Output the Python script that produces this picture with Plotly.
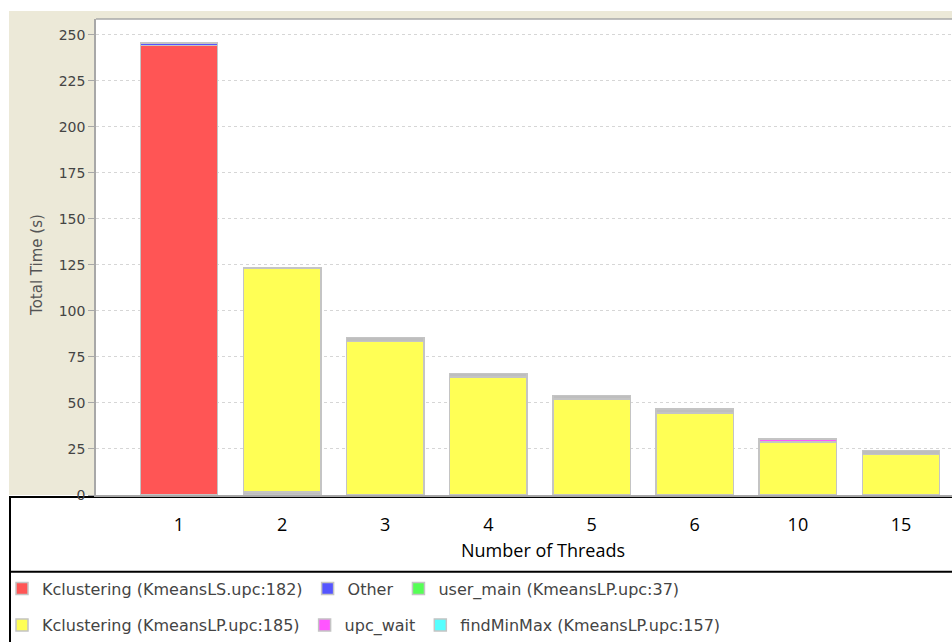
import plotly.graph_objects as go

threads = ["1", "2", "3", "4", "5", "6", "10", "15"]

# seconds per thread count, per function
unlisted_low = [0, 1.5, 0, 0, 0, 0, 0, 0]
kclust_ls = [244.3, 0, 0, 0, 0, 0, 0, 0]
kclust_lp = [0, 121.8, 83.3, 64.0, 52.2, 44.6, 28.8, 21.9]
other = [1.4, 0, 0, 0, 0, 0, 0, 0]
user_main = [0, 0, 0, 0, 0, 0, 0, 0]
upc_wait = [0, 0, 0, 0, 0, 0, 1.6, 0]
find_minmax = [0, 0, 0, 0, 0, 0, 0, 0]
unlisted_top = [0, 0, 2.4, 2.0, 2.0, 2.0, 0, 2.3]

y_ticks = [0, 25, 50, 75, 100, 125, 150, 175, 200, 225, 250]

x_title = "Number of Threads"
y_title = "Total Time (s)"

OUT = "#C4C4C4"

def bar(name, vals, color, legend, show=True):
    return go.Bar(
        x=threads, y=[v if v else None for v in vals], name=name,
        marker=dict(color=color, line=dict(color=OUT, width=1.5)),
        width=0.75, legend=legend, showlegend=show,
    )

fig = go.Figure()
fig.add_trace(bar("other threads", unlisted_low, "#BEBEBE", "legend", False))
fig.add_trace(bar("Kclustering (KmeansLS.upc:182)", kclust_ls, "#FF5555", "legend"))
fig.add_trace(bar("Kclustering (KmeansLP.upc:185)", kclust_lp, "#FFFF55", "legend2"))
fig.add_trace(bar("Other", other, "#5555FF", "legend"))
fig.add_trace(bar("user_main (KmeansLP.upc:37)", user_main, "#55FF55", "legend"))
fig.add_trace(bar("upc_wait", upc_wait, "#FF55FF", "legend2"))
fig.add_trace(bar("findMinMax (KmeansLP.upc:157)", find_minmax, "#55FFFF", "legend2"))
fig.add_trace(bar("other threads ", unlisted_top, "#BEBEBE", "legend", False))

L, T, B = 96, 19, 145
W, H = 952, 642
pw = W - L
ph = H - T - B

def px(x):
    return (x - L) / pw

def py(y):
    return (H - B - y) / ph

BEIGE = "#ECE9D8"
shapes = [
    # beige panel: left strip and top strip around the plot area
    dict(type="rect", xref="paper", yref="paper", x0=px(9), x1=px(96), y0=py(497), y1=py(11),
         fillcolor=BEIGE, line=dict(width=0), layer="below"),
    dict(type="rect", xref="paper", yref="paper", x0=px(96), x1=px(970), y0=py(19), y1=py(11),
         fillcolor=BEIGE, line=dict(width=0), layer="below"),
    # white axis box with black border
    dict(type="rect", xref="paper", yref="paper", x0=px(10), x1=px(975), y0=py(574), y1=py(499),
         fillcolor="white", line=dict(color="black", width=2), layer="below"),
    # legend area left border
    dict(type="line", xref="paper", yref="paper", x0=px(10), x1=px(10), y0=py(574), y1=py(660),
         line=dict(color="black", width=2), layer="below"),
    # plot top border
    dict(type="line", xref="paper", yref="paper", x0=0, x1=1.01, y0=1, y1=1,
         line=dict(color="#A8A8A8", width=1.5)),
]

annotations = [
    dict(text=x_title, xref="paper", yref="paper", x=px(543), y=py(552),
         xanchor="center", yanchor="middle", showarrow=False,
         font=dict(family="Open Sans", size=18, color="black")),
    dict(text=y_title, xref="paper", yref="paper", x=px(37), y=py(266),
         xanchor="center", yanchor="middle", showarrow=False, textangle=-90,
         font=dict(family="DejaVu Sans", size=15, color="#555555")),
]

legend_font = dict(family="DejaVu Sans", size=16, color="#444444")

fig.update_layout(
    width=W, height=H,
    margin=dict(l=L, r=0, t=T, b=B),
    paper_bgcolor="white",
    plot_bgcolor="white",
    barmode="stack",
    bargap=0.25,
    shapes=shapes,
    annotations=annotations,
    xaxis=dict(
        type="category",
        range=[-0.804, 7.494],
        showline=True, linecolor="#A8A8A8", linewidth=2,
        showgrid=False, ticks="", ticklen=0,
        tickfont=dict(family="Open Sans", size=18, color="black"),
        ticklabelstandoff=12,
    ),
    yaxis=dict(
        range=[0, ph * 250 / 462],
        tickvals=y_ticks,
        showline=True, linecolor="#A8A8A8", linewidth=1.5,
        ticks="outside", ticklen=6, tickcolor="#A8A8A8",
        tickfont=dict(family="DejaVu Sans", size=14, color="#444444"),
        showgrid=True, gridcolor="#D6D6D6", griddash="3px,3px", gridwidth=1,
        zeroline=False,
    ),
    legend=dict(
        orientation="h", x=px(2), y=py(591), xanchor="left", yanchor="middle",
        font=legend_font, bgcolor="rgba(0,0,0,0)", traceorder="normal",
    ),
    legend2=dict(
        orientation="h", x=px(2), y=py(628), xanchor="left", yanchor="middle",
        font=legend_font, bgcolor="rgba(0,0,0,0)", traceorder="normal",
    ),
)

fig.write_html("out.html")
